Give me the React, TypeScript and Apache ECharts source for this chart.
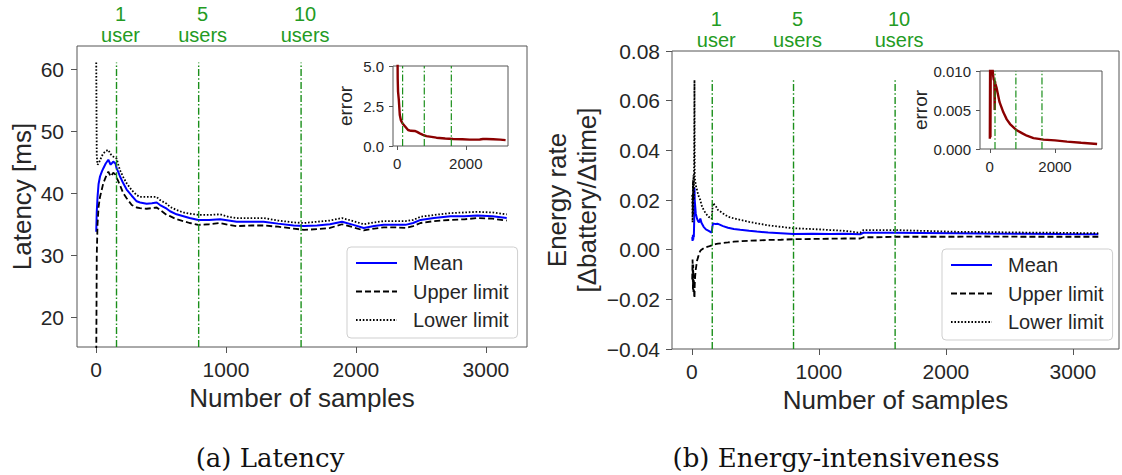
import React, { useEffect, useRef } from "react";
import * as echarts from "echarts";

// ---------- Latency panel (a) ----------
const latX = [2, 6, 12, 20, 31, 45, 56, 75, 95, 113, 133, 150, 159, 172, 185, 210, 236, 275, 313, 339, 390, 430, 467, 493, 544, 570, 620, 673, 720, 788, 870, 955, 1020, 1083, 1200, 1289, 1400, 1520, 1600, 1700, 1800, 1893, 1980, 2060, 2140, 2214, 2300, 2381, 2440, 2497, 2600, 2728, 2834, 2934, 3050, 3160];
const latMean = [33.8, 37.0, 39.4, 41.5, 42.7, 43.5, 44.0, 44.8, 45.4, 44.6, 45.1, 44.8, 44.0, 43.4, 42.7, 41.6, 40.6, 39.6, 38.7, 38.5, 38.3, 38.4, 38.5, 38.1, 37.5, 37.1, 36.6, 36.3, 36.0, 35.7, 35.7, 35.8, 35.6, 35.4, 35.4, 35.4, 35.1, 34.8, 34.7, 34.8, 35.0, 35.4, 34.9, 34.4, 34.7, 34.9, 34.9, 34.9, 35.2, 35.7, 36.0, 36.3, 36.3, 36.4, 36.3, 36.0];
const latUpper = [13, 30, 35, 37.8, 39.4, 40.6, 41.6, 42.6, 43.5, 42.7, 43.3, 43.0, 42.5, 41.9, 41.3, 40.0, 39.2, 38.1, 37.7, 37.6, 37.5, 37.6, 37.7, 37.3, 36.5, 36.3, 35.8, 35.5, 35.2, 34.9, 35.0, 35.2, 34.9, 34.7, 34.8, 34.8, 34.6, 34.3, 34.1, 34.2, 34.4, 35.0, 34.5, 34.0, 34.3, 34.5, 34.5, 34.4, 34.7, 35.2, 35.5, 35.7, 35.8, 36.0, 35.9, 35.6];
const latLower = [61.1, 46.0, 44.6, 44.8, 45.3, 46.0, 46.4, 46.8, 47.0, 46.3, 45.9, 45.8, 45.6, 44.6, 43.7, 42.6, 41.6, 40.5, 39.7, 39.4, 39.4, 39.4, 39.4, 38.9, 38.3, 37.8, 37.3, 36.9, 36.7, 36.5, 36.5, 36.6, 36.2, 36.0, 36.0, 36.0, 35.6, 35.3, 35.2, 35.4, 35.6, 36.0, 35.5, 35.0, 35.3, 35.5, 35.5, 35.5, 35.7, 36.2, 36.5, 36.8, 36.9, 37.0, 36.9, 36.6];
const latErrX = [3, 8, 15, 25, 47, 76, 110, 153, 200, 317, 400, 512, 580, 658, 750, 852, 1000, 1143, 1400, 1629, 1900, 2115, 2300, 2407, 2500, 2600, 2800, 3000, 3160];
const latErr = [12, 6.5, 4.2, 3.4, 2.9, 1.94, 1.6, 1.42, 1.3, 1.0, 0.95, 0.94, 0.88, 0.79, 0.7, 0.62, 0.57, 0.52, 0.47, 0.44, 0.42, 0.40, 0.40, 0.41, 0.44, 0.44, 0.42, 0.40, 0.37];
const latUsersX = [158, 790, 1578];
const latYTicks = [20, 30, 40, 50, 60];
const latErrYTicks = [0, 2.5, 5];

// ---------- Energy panel (b) ----------
const enX = [2, 5, 8, 10, 12, 15, 18, 20, 22, 25, 30, 40, 50, 57, 66, 75, 92, 110, 132, 145, 155, 165, 185, 205, 245, 284, 330, 380, 450, 511, 600, 700, 800, 950, 1089, 1200, 1325, 1351, 1450, 1600, 1800, 2085, 2300, 2610, 2900, 3200];
const enMean = [0.005, 0.0035, 0.006, 0.004, 0.0055, 0.005, 0.012, 0.025, 0.020, 0.018, 0.0146, 0.0125, 0.0113, 0.0110, 0.0125, 0.0108, 0.0092, 0.0082, 0.0076, 0.0072, 0.0069, 0.0106, 0.0103, 0.0104, 0.0095, 0.0088, 0.0083, 0.0080, 0.0076, 0.0073, 0.0069, 0.0066, 0.0063, 0.0064, 0.0063, 0.0064, 0.0062, 0.0068, 0.0068, 0.0068, 0.0067, 0.0066, 0.0065, 0.0064, 0.0063, 0.0062];
const enUpper = [-0.012, -0.004, -0.016, -0.006, -0.017, -0.010, -0.019, -0.0195, -0.014, -0.011, -0.008, -0.0045, -0.0028, -0.0015, -0.0005, 0.0, 0.0006, 0.0010, 0.0013, 0.0015, 0.0017, 0.0020, 0.0022, 0.0024, 0.0027, 0.0029, 0.0032, 0.0034, 0.0036, 0.0037, 0.0039, 0.0040, 0.0042, 0.0043, 0.0044, 0.0045, 0.0045, 0.0050, 0.0050, 0.0052, 0.0052, 0.0052, 0.0053, 0.0052, 0.0052, 0.0052];
const enLower = [0.022, 0.011, 0.028, 0.014, 0.030, 0.020, 0.045, 0.0683, 0.029, 0.028, 0.026, 0.024, 0.022, 0.021, 0.020, 0.018, 0.016, 0.0145, 0.0132, 0.0128, 0.0124, 0.0187, 0.0178, 0.0160, 0.0146, 0.0133, 0.0126, 0.0120, 0.0112, 0.0106, 0.0098, 0.0092, 0.0086, 0.0083, 0.0079, 0.0076, 0.0068, 0.0079, 0.0079, 0.0079, 0.0076, 0.0072, 0.0071, 0.0069, 0.0068, 0.0066];
const enErrX = [2, 10, 20, 30, 50, 80, 100, 120, 140, 150, 158, 170, 211, 300, 416, 520, 621, 827, 1000, 1135, 1340, 1500, 1647, 2000, 2366, 2800, 3290];
const enErr = [0.0013, 0.011, 0.0015, 0.012, 0.011, 0.0105, 0.0095, 0.0089, 0.0088, 0.005, 0.0087, 0.0084, 0.0078, 0.006, 0.0047, 0.0038, 0.0032, 0.0024, 0.002, 0.0017, 0.0014, 0.0013, 0.0012, 0.0011, 0.00095, 0.0008, 0.00065];
const enUsersX = [160, 800, 1600];
const enYTicks = [-0.04, -0.02, 0, 0.02, 0.04, 0.06, 0.08];
const enErrYTicks = [0, 0.005, 0.01];

const usersLabels = ["1\nuser", "5\nusers", "10\nusers"];
const mainXTicks = [0, 1000, 2000, 3000];
const insetXTicks = [0, 2000];
const legendNames = ["Mean", "Upper limit", "Lower limit"];

const F = '"Liberation Sans", Arial, sans-serif';
const TXT = "#262626";
const SPINE = "#555555";
const GREEN = "#1a8f1a";
const GREEN_TXT = "#239b23";
const VDASH = [7, 2.2, 1.5, 2.2];

const zip = (xs: number[], ys: number[]) => xs.map((x, i) => [x, ys[i]]);
const fmtMinus = (v: number, d: number) => (v < 0 ? "\u2212" : "") + Math.abs(v).toFixed(d);

function valueX(gridIndex: number, min: number, max: number, ticks: number[], fontSize: number, margin: number, tickLen: number) {
  return {
    type: "value", gridIndex, min, max, position: "bottom",
    axisLine: { show: false, onZero: false },
    splitLine: { show: false },
    axisTick: { show: true, inside: false, length: tickLen, customValues: ticks, lineStyle: { color: SPINE, width: 1 } },
    axisLabel: { customValues: ticks, fontSize, color: TXT, fontFamily: F, margin, formatter: (v: number) => String(Math.round(v)) },
  };
}

function valueY(gridIndex: number, min: number, max: number, ticks: number[], digits: number, fontSize: number, margin: number, tickLen: number) {
  return {
    type: "value", gridIndex, min, max, position: "left",
    axisLine: { show: false, onZero: false },
    splitLine: { show: false },
    axisTick: { show: true, inside: false, length: tickLen, customValues: ticks, lineStyle: { color: SPINE, width: 1 } },
    axisLabel: { customValues: ticks, fontSize, color: TXT, fontFamily: F, margin, formatter: (v: number) => fmtMinus(v, digits) },
  };
}

function topLabels(gridIndex: number, min: number, max: number, xs: number[]) {
  return {
    type: "value", gridIndex, min, max, position: "top",
    axisLine: { show: false, onZero: false }, axisTick: { show: false }, splitLine: { show: false },
    axisLabel: {
      customValues: xs,
      formatter: (v: number) => { const i = xs.findIndex((u) => Math.abs(u - v) < 1e-6); return i >= 0 ? usersLabels[i] : ""; },
      fontSize: 20, lineHeight: 21, color: GREEN_TXT, fontFamily: F, margin: 1, padding: [0, 0, 0, 8],
    },
  };
}

function dataSeries(xi: number, yi: number, xs: number[], mean: number[], upper: number[], lower: number[]) {
  return [
    { name: "Mean", type: "line", xAxisIndex: xi, yAxisIndex: yi, data: zip(xs, mean), symbol: "none", showSymbol: false, lineStyle: { color: "#0000ff", width: 2 }, itemStyle: { color: "#0000ff" } },
    { name: "Upper limit", type: "line", xAxisIndex: xi, yAxisIndex: yi, data: zip(xs, upper), symbol: "none", showSymbol: false, lineStyle: { color: "#000000", width: 1.8, type: [6, 3] }, itemStyle: { color: "#000000" } },
    { name: "Lower limit", type: "line", xAxisIndex: xi, yAxisIndex: yi, data: zip(xs, lower), symbol: "none", showSymbol: false, lineStyle: { color: "#000000", width: 1.8, type: [1.6, 1.8] }, itemStyle: { color: "#000000" } },
  ];
}

function vlines(xi: number, yi: number, xs: number[], y0: number, y1: number, width: number) {
  return xs.map((x, i) => ({
    name: `vline-${xi}-${i}`, type: "line", xAxisIndex: xi, yAxisIndex: yi, silent: true,
    data: [[x, y0], [x, y1]], symbol: "none",
    lineStyle: { color: GREEN, width, type: VDASH },
  }));
}

function legendAt(left: number, top: number) {
  return {
    orient: "vertical", left, top,
    data: legendNames.map((n) => ({ name: n, icon: "inherit" })),
    itemWidth: 41, itemHeight: 14, itemGap: 8.5,
    padding: [6, 9, 8, 8],
    borderColor: "#cfcfcf", borderWidth: 1, borderRadius: 4,
    backgroundColor: "rgba(255,255,255,0.85)",
    selectedMode: false,
    itemStyle: { opacity: 0 },
    textStyle: { fontSize: 20, lineHeight: 20, color: TXT, fontFamily: F, padding: [0, 0, 0, 11] },
  };
}

export default function App() {
  const ref = useRef<HTMLDivElement>(null);
  useEffect(() => {
    if (!ref.current) return;
    const chart = echarts.init(ref.current, null, { renderer: "svg" });

    const latYMin = 15.2, latYMax = 63.75;
    const latXMin = -146, latXMax = 3316;
    const enYMin = -0.04, enYMax = 0.08;
    const enXMin = -157, enXMax = 3363;

    const gridStyle = { show: true, borderColor: SPINE, borderWidth: 1, backgroundColor: "transparent", containLabel: false };

    const option: any = {
      animation: false,
      backgroundColor: "#ffffff",
      grid: [
        { ...gridStyle, left: 77, top: 46, width: 450, height: 301 },
        { ...gridStyle, left: 393, top: 66, width: 115, height: 80 },
        { ...gridStyle, left: 672, top: 51, width: 447, height: 298 },
        { ...gridStyle, left: 980, top: 71, width: 122, height: 78 },
      ],
      xAxis: [
        { ...valueX(0, latXMin, latXMax, mainXTicks, 21, 12, 6), name: "Number of samples", nameLocation: "middle", nameGap: 35, nameTextStyle: { fontSize: 26, color: TXT, fontFamily: F } },
        topLabels(0, latXMin, latXMax, latUsersX),
        valueX(1, -122, 3230, insetXTicks, 15, 10, 4),
        { ...valueX(2, enXMin, enXMax, mainXTicks, 21, 12, 6), name: "Number of samples", nameLocation: "middle", nameGap: 34, nameTextStyle: { fontSize: 26, color: TXT, fontFamily: F } },
        topLabels(2, enXMin, enXMax, enUsersX),
        valueX(3, -300, 3440, insetXTicks, 15, 10, 4),
      ],
      yAxis: [
        { ...valueY(0, latYMin, latYMax, latYTicks, 0, 21, 13, 6), name: "Latency [ms]", nameLocation: "middle", nameGap: 42, nameTextStyle: { fontSize: 26, lineHeight: 26, color: TXT, fontFamily: F } },
        { ...valueY(1, 0, 5, latErrYTicks, 1, 15, 9, 4), name: "error", nameLocation: "middle", nameGap: 38, nameTextStyle: { fontSize: 19, color: TXT, fontFamily: F } },
        { ...valueY(2, enYMin, enYMax, enYTicks, 2, 21, 12, 6), name: "Energy rate\n[\u0394battery/\u0394time]", nameLocation: "middle", nameGap: 70, nameTextStyle: { fontSize: 26, lineHeight: 30, color: TXT, fontFamily: F } },
        { ...valueY(3, 0, 0.01, enErrYTicks, 3, 15, 9, 4), name: "error", nameLocation: "middle", nameGap: 49, nameTextStyle: { fontSize: 19, color: TXT, fontFamily: F } },
      ],
      legend: [legendAt(347, 247), legendAt(942, 249)],
      series: [
        ...dataSeries(0, 0, latX, latMean, latUpper, latLower),
        ...vlines(0, 0, latUsersX, latYMin, Math.max(...latLower), 1.4),
        { name: "lat-error", type: "line", xAxisIndex: 2, yAxisIndex: 1, data: zip(latErrX, latErr), symbol: "none", lineStyle: { color: "#8b0000", width: 2.4 } },
        ...vlines(2, 1, latUsersX, 0, 5, 1.2),
        ...dataSeries(3, 2, enX, enMean, enUpper, enLower),
        ...vlines(3, 2, enUsersX, enYMin, Math.max(...enLower), 1.4),
        { name: "en-error", type: "line", xAxisIndex: 5, yAxisIndex: 3, data: zip(enErrX, enErr), symbol: "none", lineStyle: { color: "#8b0000", width: 2.4 } },
        ...vlines(5, 3, enUsersX, 0, 0.01, 1.2),
      ],
      graphic: [
        { type: "text", x: 270, y: 458, style: { text: "(a) Latency", fontSize: 26, fontFamily: '"DejaVu Serif", serif', fill: "#111", align: "center", verticalAlign: "middle" } },
        { type: "text", x: 836, y: 458, style: { text: "(b) Energy-intensiveness", fontSize: 26, fontFamily: '"DejaVu Serif", serif', fill: "#111", align: "center", verticalAlign: "middle" } },
      ],
    };
    chart.setOption(option);
    return () => chart.dispose();
  }, []);
  return <div ref={ref} style={{ position: "fixed", left: 0, top: 0, width: 1122, height: 475, background: "#fff" }} />;
}
